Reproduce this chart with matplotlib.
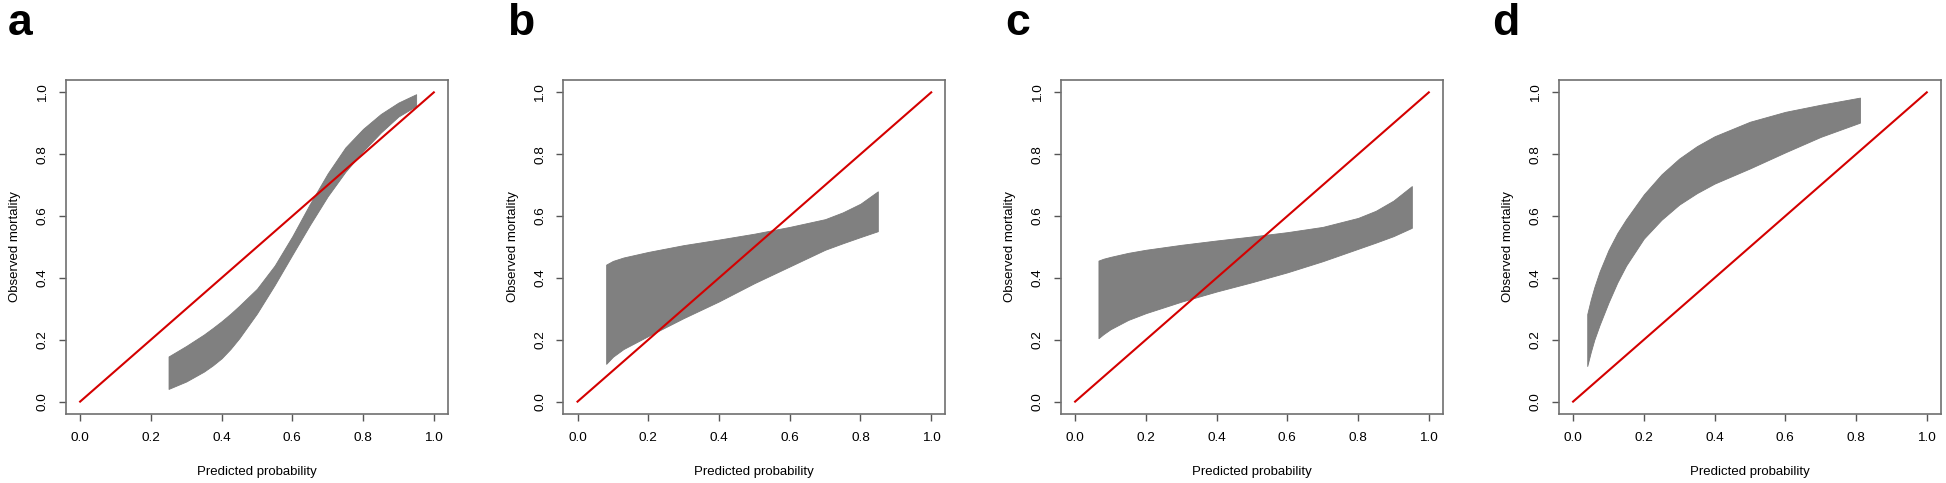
import numpy as np
import matplotlib.pyplot as plt

plt.rcParams['font.family'] = ['Liberation Sans', 'DejaVu Sans']

panel_labels = ["a", "b", "c", "d"]
ticks = [0.0, 0.2, 0.4, 0.6, 0.8, 1.0]
tick_labels = ["0.0", "0.2", "0.4", "0.6", "0.8", "1.0"]

# confidence bands: x, upper, lower
a_x = [0.25, 0.30, 0.35, 0.375, 0.40, 0.425, 0.45, 0.50, 0.55, 0.60, 0.65, 0.70, 0.75, 0.80, 0.85, 0.90, 0.95]
a_up = [0.146, 0.180, 0.217, 0.238, 0.260, 0.284, 0.310, 0.365, 0.440, 0.535, 0.640, 0.738, 0.822, 0.882, 0.930, 0.967, 0.994]
a_lo = [0.041, 0.065, 0.097, 0.117, 0.140, 0.170, 0.205, 0.285, 0.377, 0.475, 0.572, 0.664, 0.743, 0.810, 0.870, 0.922, 0.956]

b_x = [0.081, 0.10, 0.13, 0.20, 0.30, 0.40, 0.50, 0.55, 0.60, 0.70, 0.75, 0.80, 0.849]
b_up = [0.443, 0.455, 0.466, 0.484, 0.506, 0.524, 0.543, 0.554, 0.565, 0.590, 0.612, 0.640, 0.680]
b_lo = [0.122, 0.145, 0.170, 0.212, 0.270, 0.324, 0.383, 0.410, 0.437, 0.491, 0.512, 0.532, 0.551]

c_x = [0.066, 0.08, 0.10, 0.15, 0.20, 0.30, 0.40, 0.50, 0.60, 0.70, 0.80, 0.85, 0.90, 0.952]
c_up = [0.456, 0.462, 0.468, 0.481, 0.491, 0.507, 0.521, 0.534, 0.548, 0.565, 0.594, 0.617, 0.650, 0.697]
c_lo = [0.205, 0.218, 0.234, 0.264, 0.286, 0.323, 0.356, 0.386, 0.418, 0.454, 0.494, 0.514, 0.535, 0.562]

d_x = [0.04, 0.05, 0.06, 0.075, 0.10, 0.125, 0.15, 0.20, 0.25, 0.30, 0.35, 0.40, 0.50, 0.60, 0.70, 0.811]
d_up = [0.283, 0.330, 0.370, 0.421, 0.490, 0.545, 0.590, 0.670, 0.735, 0.786, 0.826, 0.858, 0.905, 0.937, 0.960, 0.983]
d_lo = [0.115, 0.160, 0.200, 0.248, 0.320, 0.385, 0.440, 0.527, 0.588, 0.637, 0.674, 0.705, 0.754, 0.806, 0.856, 0.902]

bands = [(a_x, a_up, a_lo), (b_x, b_up, b_lo), (c_x, c_up, c_lo), (d_x, d_up, d_lo)]
lefts = [0.0339, 0.2895, 0.5452, 0.8011]
label_x = [8, 507, 1005, 1492]

fig = plt.figure(figsize=(19.46, 4.83), dpi=100)
for i, (bx, bup, blo) in enumerate(bands):
    ax = fig.add_axes([lefts[i], 0.1429, 0.1963, 0.6915])
    ax.fill_between(bx, blo, bup, facecolor="#808080", edgecolor="#7a7a7a", linewidth=0.6)
    ax.plot([0, 1], [0, 1], color="#d40000", linewidth=1.5)
    ax.set_xlim(-0.04, 1.04)
    ax.set_ylim(-0.04, 1.04)
    ax.set_xticks(ticks)
    ax.set_xticklabels(tick_labels, fontsize=9.7)
    ax.set_yticks(ticks)
    ax.set_yticklabels(tick_labels, fontsize=9.7, rotation=90, va="center")
    ax.tick_params(direction="out", length=5, width=1, color="#555555")
    ax.tick_params(axis="x", pad=8)
    ax.tick_params(axis="y", pad=7.5)
    for s in ax.spines.values():
        s.set_color("#707070")
        s.set_linewidth(1.2)
    ax.set_xlabel("Predicted probability", fontsize=9.5, labelpad=16)
    ax.set_ylabel("Observed mortality", fontsize=9.5, labelpad=11)
    fig.text(label_x[i] / 1946, 1 - 35 / 483, panel_labels[i], fontsize=32,
             fontweight="bold", va="baseline", ha="left")

fig.savefig("out.png", dpi=100)
